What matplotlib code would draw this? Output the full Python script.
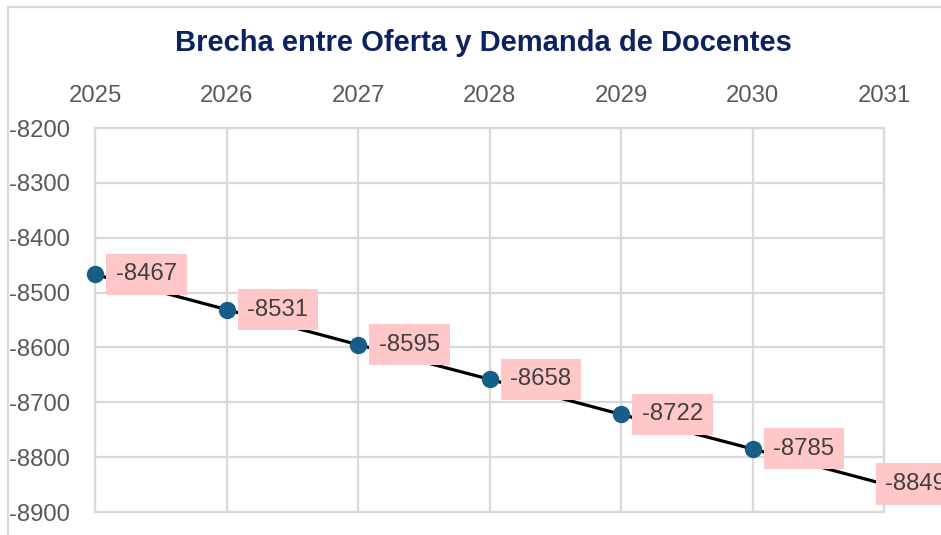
import numpy as np
import matplotlib.pyplot as plt
from matplotlib.lines import Line2D

plt.rcParams['font.family'] = ['Liberation Sans', 'DejaVu Sans']
plt.rcParams['axes.unicode_minus'] = False

years = [2025, 2026, 2027, 2028, 2029, 2030, 2031]
gap = [-8467, -8531, -8595, -8658, -8722, -8785, -8849]
yticks = [-8200, -8300, -8400, -8500, -8600, -8700, -8800, -8900]

grid_c = '#d9d9d9'
text_c = '#595959'

fig = plt.figure(figsize=(9.41, 5.35), dpi=100)
ax = fig.add_axes([95/941, 1-512/535, (884-95)/941, (512-128)/535])

ax.plot(years, gap, color='black', lw=2.3, zorder=3, clip_on=False)
ax.plot(years[:-1], gap[:-1], 'o', color='#175e87', ms=11.5, zorder=4, clip_on=False)

for i, (x, y) in enumerate(zip(years, gap)):
    off = 15 if i < len(years) - 1 else 1
    ax.annotate(str(y), (x, y), xytext=(off, 0), textcoords='offset points',
                ha='left', va='center', fontsize=17.2, color='#404040',
                bbox=dict(boxstyle='square,pad=0.4', fc='#ffc7c7', ec='none'),
                zorder=5, annotation_clip=False, clip_on=False)

ax.set_xlim(2025, 2031)
ax.set_ylim(-8900, -8200)
ax.set_xticks(years)
ax.set_yticks(yticks)
ax.xaxis.tick_top()
ax.tick_params(axis='x', length=0, pad=15, labelsize=17.2, labelcolor=text_c)
ax.tick_params(axis='y', length=0, pad=18, labelsize=17.2, labelcolor=text_c)
ax.grid(True, color=grid_c, lw=1.6)
for s in ax.spines.values():
    s.set_color(grid_c)
    s.set_linewidth(1.6)

fig.text(483/941, 1-43/535, 'Brecha entre Oferta y Demanda de Docentes',
         ha='center', va='center', fontsize=21, fontweight='bold', color='#0b2361')

# chart frame
fig.add_artist(Line2D([8/941, 1], [1-7/535, 1-7/535], color=grid_c, lw=1.6))
fig.add_artist(Line2D([8/941, 8/941], [0, 1-7/535], color=grid_c, lw=1.6))

fig.savefig('out.png', dpi=100)
